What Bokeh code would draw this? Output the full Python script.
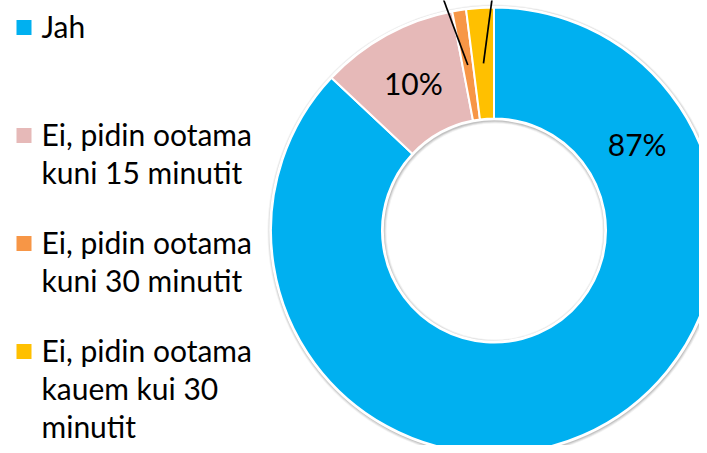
import math
from bokeh.plotting import figure
from bokeh.models import Range1d, ColumnDataSource
from bokeh.core.properties import value
from bokeh.embed import file_html
from bokeh.resources import INLINE

# ---- data ----
categories = ["Jah", "Ei, pidin ootama kuni 15 minutit",
              "Ei, pidin ootama kuni 30 minutit",
              "Ei, pidin ootama kauem kui 30 minutit"]
shares = [87, 10, 1, 2]
colors = ["#00B0F0", "#E6B9B8", "#F79646", "#FFC000"]
legend_lines = [["Jah"],
                ["Ei, pidin ootama", "kuni 15 minutit"],
                ["Ei, pidin ootama", "kuni 30 minutit"],
                ["Ei, pidin ootama", "kauem kui 30", "minutit"]]
inside_labels = ["87%", "10%"]

# ---- layout (picture pixel coordinates; data y = 453 - picture y) ----
W, H = 699, 445
FONT = "Lato"
FS = "30px"
cx, cy = 493.5, 453 - 230
R_OUT, R_IN = 223, 112

p = figure(width=W, height=H, output_backend="svg", toolbar_location=None,
           x_range=Range1d(0, W), y_range=Range1d(453 - H, 453),
           min_border=0, outline_line_color=None)
p.axis.visible = False
p.grid.visible = False
p.background_fill_color = "white"
p.border_fill_color = "white"

total = float(sum(shares))
cum = [0.0]
for s in shares:
    cum.append(cum[-1] + s / total)
starts = [math.pi / 2 - 2 * math.pi * c for c in cum[:-1]]
ends = [math.pi / 2 - 2 * math.pi * c for c in cum[1:]]
mids = [(a + b) / 2 for a, b in zip(starts, ends)]

# soft shadow
for k, a in [(4, 0.10), (3, 0.18), (2, 0.28)]:
    p.annulus(x=cx + 0.5, y=cy - 1, inner_radius=R_IN - k, outer_radius=R_OUT + k,
              fill_color="#808080", fill_alpha=a, line_color=None)

src = ColumnDataSource(dict(start=starts, end=ends, color=colors))
p.annular_wedge(x=cx, y=cy, inner_radius=R_IN, outer_radius=R_OUT,
                start_angle="start", end_angle="end", direction="clock",
                fill_color="color", line_color="white", line_width=2, source=src)
# white rims
p.circle(x=cx, y=cy, radius=R_OUT + 1, fill_color=None, line_color="white", line_width=1.5)
p.circle(x=cx, y=cy, radius=R_IN - 1, fill_color=None, line_color="white", line_width=1.5)

# labels inside
r_mid = (R_OUT + R_IN) / 2 - 1
blue_ang = math.pi / 2 - math.radians(59.3)
lx = [cx + r_mid * math.cos(blue_ang), cx + (r_mid + 1) * math.cos(mids[1])]
ly = [cy + r_mid * math.sin(blue_ang) + 1, cy + (r_mid + 1) * math.sin(mids[1]) + 1]
p.text(x=lx, y=ly, text=inside_labels, text_font=value(FONT), text_font_size=FS,
       text_align="center", text_baseline="middle", text_color="black")

# leader lines for the small slices (labels lie above the visible area)
ends_xy = [(436, 453 + 20), (494, 453 + 20)]
for i, (ex, ey) in zip([2, 3], ends_xy):
    sx = cx + (R_OUT + R_IN) / 2 * math.cos(mids[i])
    sy = cy + (R_OUT + R_IN) / 2 * math.sin(mids[i])
    p.line(x=[sx, ex], y=[sy, ey], line_color="black", line_width=1.7)

# legend
leg_top = [27, 135, 243, 351]
line_h = 38
for lines, col, yt in zip(legend_lines, colors, leg_top):
    p.rect(x=23.5, y=453 - yt, width=15, height=15, fill_color=col, line_color=None)
    for j, t in enumerate(lines):
        p.text(x=[41], y=[453 - yt - j * line_h + 2], text=[t], text_font=value(FONT),
               text_font_size=FS, text_baseline="middle", text_color="black")

open("out.html", "w").write(file_html(p, INLINE))
